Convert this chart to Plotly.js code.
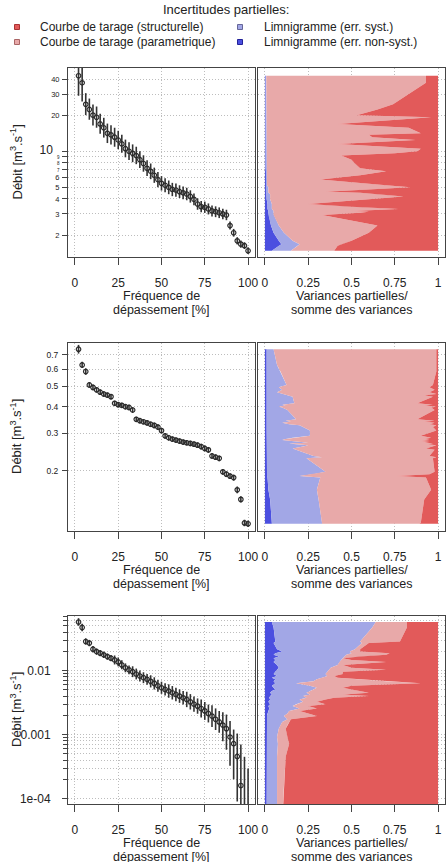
<!DOCTYPE html>
<html>
<head>
<meta charset="utf-8">
<script src="https://cdn.plot.ly/plotly-3.0.1.min.js"></script>
<style>html,body{margin:0;padding:0;background:#fff;}#chart{width:448px;height:862px;}</style>
</head>
<body>
<div id="chart"></div>
<script>
// Exceedance frequency [%] for the 48 ranked flows of each station
const freq = [2.08, 4.17, 6.25, 8.33, 10.42, 12.5, 14.58, 16.67, 18.75, 20.83, 22.92, 25, 27.08, 29.17, 31.25, 33.33,
  35.42, 37.5, 39.58, 41.67, 43.75, 45.83, 47.92, 50, 52.08, 54.17, 56.25, 58.33, 60.42, 62.5, 64.58, 66.67,
  68.75, 70.83, 72.92, 75, 77.08, 79.17, 81.25, 83.33, 85.42, 87.5, 89.58, 91.67, 93.75, 95.83, 97.92, 100];

// Station 1 : flows [m3/s] and uncertainty bounds
const q1 = [42.6, 37.2, 24.6, 22.3, 20.0, 19.2, 16.9, 15.7, 14.1, 13.7, 13.1, 12.4, 11.5, 10.5, 10.0, 9.6,
  9.2, 8.5, 7.9, 7.2, 6.8, 6.3, 5.8, 5.4, 5.2, 5.0, 4.8, 4.75, 4.6, 4.5, 4.4, 4.2,
  3.97, 3.63, 3.45, 3.41, 3.3, 3.18, 3.13, 3.07, 3.0, 2.94, 2.4, 2.09, 1.79, 1.68, 1.63, 1.48];
const q1Low = [29, 26, 20, 18.3, 16.4, 15.7, 14.0, 13.0, 11.7, 11.4, 10.9, 10.4, 9.7, 8.9, 8.45, 8.1,
  7.8, 7.25, 6.75, 6.2, 5.85, 5.45, 5.0, 4.7, 4.55, 4.38, 4.22, 4.18, 4.07, 3.98, 3.9, 3.73,
  3.54, 3.25, 3.1, 3.06, 2.97, 2.86, 2.82, 2.77, 2.71, 2.66, 2.22, 1.94, 1.67, 1.57, 1.53, 1.39];
const q1High = [62, 53, 30.5, 27.5, 24.5, 23.6, 20.5, 19.0, 17.0, 16.5, 15.7, 14.8, 13.7, 12.5, 11.9, 11.4,
  10.9, 10.0, 9.25, 8.4, 7.9, 7.3, 6.7, 6.2, 5.95, 5.7, 5.45, 5.38, 5.2, 5.08, 4.96, 4.72,
  4.45, 4.05, 3.84, 3.8, 3.67, 3.53, 3.47, 3.4, 3.32, 3.25, 2.6, 2.25, 1.92, 1.8, 1.74, 1.58];

// Station 2
const q2 = [0.745, 0.628, 0.585, 0.506, 0.493, 0.48, 0.468, 0.459, 0.453, 0.446, 0.415, 0.409, 0.406, 0.40, 0.397, 0.386,
  0.349, 0.344, 0.34, 0.336, 0.331, 0.327, 0.321, 0.309, 0.292, 0.286, 0.282, 0.279, 0.276, 0.273, 0.271, 0.269,
  0.267, 0.264, 0.26, 0.255, 0.251, 0.235, 0.232, 0.229, 0.198, 0.193, 0.189, 0.186, 0.163, 0.147, 0.114, 0.113];
const q2Low = [0.71, 0.607, 0.565, 0.491, 0.478, 0.466, 0.454, 0.445, 0.44, 0.433, 0.403, 0.397, 0.394, 0.388, 0.385, 0.374,
  0.339, 0.334, 0.33, 0.326, 0.321, 0.317, 0.311, 0.30, 0.283, 0.277, 0.274, 0.271, 0.268, 0.265, 0.263, 0.261,
  0.259, 0.256, 0.252, 0.247, 0.243, 0.228, 0.225, 0.222, 0.192, 0.187, 0.183, 0.18, 0.157, 0.142, 0.11, 0.109];
const q2High = [0.78, 0.65, 0.606, 0.521, 0.508, 0.494, 0.482, 0.473, 0.466, 0.459, 0.427, 0.421, 0.418, 0.412, 0.409, 0.398,
  0.359, 0.354, 0.35, 0.346, 0.341, 0.337, 0.331, 0.318, 0.301, 0.295, 0.29, 0.287, 0.284, 0.281, 0.279, 0.277,
  0.275, 0.272, 0.268, 0.263, 0.259, 0.242, 0.239, 0.236, 0.204, 0.199, 0.195, 0.192, 0.169, 0.152, 0.118, 0.117];

// Station 3
const q3 = [0.0577, 0.0474, 0.0286, 0.027, 0.0217, 0.0199, 0.0188, 0.0177, 0.0166, 0.0157, 0.0147, 0.0137, 0.0123, 0.0111, 0.0103, 0.00964,
  0.00887, 0.00826, 0.00776, 0.00732, 0.00681, 0.00633, 0.00581, 0.0054, 0.00509, 0.0048, 0.00451, 0.00425, 0.004, 0.00376, 0.00355, 0.00326,
  0.00299, 0.00279, 0.00256, 0.00235, 0.00214, 0.00195, 0.00174, 0.00158, 0.00141, 0.00124, 0.000916, 0.000721, 0.000456, 0.00016, 0.000055, 0.00004];
const q3Low = [0.0503, 0.0413, 0.0255, 0.0241, 0.0193, 0.0177, 0.0168, 0.0158, 0.0148, 0.014, 0.0125, 0.0117, 0.0105, 0.00945, 0.00877, 0.00793,
  0.0073, 0.00679, 0.00638, 0.00602, 0.00547, 0.00508, 0.00467, 0.00434, 0.00409, 0.00377, 0.00354, 0.00334, 0.00314, 0.00295, 0.00269, 0.00247,
  0.00227, 0.00212, 0.00186, 0.0017, 0.00155, 0.00132, 0.00118, 0.00107, 0.00079, 0.00058, 0.000325, 0.0002, 0.00009, 0.00003, 0.00001, 0.00001];
const q3High = [0.0662, 0.0544, 0.0321, 0.0303, 0.0243, 0.0223, 0.0211, 0.0199, 0.0186, 0.0176, 0.0173, 0.0161, 0.0145, 0.013, 0.0121, 0.01172,
  0.01079, 0.01004, 0.00944, 0.0089, 0.00848, 0.00788, 0.00723, 0.00672, 0.00634, 0.00612, 0.00575, 0.00541, 0.0051, 0.00479, 0.00468, 0.0043,
  0.00394, 0.00368, 0.00353, 0.00324, 0.00295, 0.00288, 0.00257, 0.00234, 0.00223, 0.00206, 0.00163, 0.0012, 0.00104, 0.0007, 0.00045, 0.000295];

// Partial variances / total variance, one value per flow (structural part = remainder to 1)
const nonSyst1 = [0.004, 0.004, 0.004, 0.004, 0.004, 0.004, 0.004, 0.004, 0.004, 0.004, 0.004, 0.004, 0.004, 0.004, 0.004, 0.004,
  0.004, 0.004, 0.004, 0.004, 0.006, 0.006, 0.006, 0.006, 0.006, 0.006, 0.006, 0.006, 0.006, 0.006, 0.01, 0.01,
  0.01, 0.015, 0.015, 0.015, 0.015, 0.02, 0.02, 0.02, 0.02, 0.02, 0.035, 0.05, 0.08, 0.095, 0.08, 0.04];
const syst1 = [0.004, 0.004, 0.004, 0.004, 0.004, 0.004, 0.004, 0.004, 0.004, 0.004, 0.004, 0.004, 0.004, 0.004, 0.004, 0.004,
  0.004, 0.004, 0.004, 0.004, 0.006, 0.006, 0.006, 0.006, 0.006, 0.014, 0.014, 0.014, 0.014, 0.014, 0.02, 0.02,
  0.02, 0.025, 0.025, 0.025, 0.025, 0.03, 0.03, 0.03, 0.03, 0.03, 0.045, 0.06, 0.08, 0.105, 0.11, 0.11];
const param1 = [0.922, 0.922, 0.732, 0.642, 0.522, 0.952, 0.412, 0.822, 0.892, 0.592, 0.612, 0.862, 0.412, 0.892, 0.872, 0.742,
  0.432, 0.492, 0.512, 0.542, 0.688, 0.538, 0.308, 0.588, 0.688, 0.82, 0.58, 0.48, 0.33, 0.53, 0.62, 0.77,
  0.57, 0.21, 0.46, 0.56, 0.73, 0.45, 0.55, 0.5, 0.4, 0.28, 0.57, 0.49, 0.34, 0.25, 0.23, 0.25];

const nonSyst2 = [0.01, 0.01, 0.01, 0.01, 0.01, 0.01, 0.01, 0.01, 0.01, 0.01, 0.01, 0.01, 0.01, 0.01, 0.01, 0.01,
  0.01, 0.01, 0.01, 0.01, 0.01, 0.01, 0.01, 0.01, 0.01, 0.01, 0.01, 0.01, 0.01, 0.01, 0.01, 0.01,
  0.01, 0.01, 0.01, 0.01, 0.01, 0.01, 0.01, 0.01, 0.012, 0.012, 0.012, 0.015, 0.02, 0.03, 0.04, 0.04];
const syst2 = [0.04, 0.06, 0.08, 0.115, 0.07, 0.09, 0.06, 0.10, 0.12, 0.15, 0.16, 0.09, 0.11, 0.07, 0.09, 0.12,
  0.17, 0.11, 0.14, 0.09, 0.13, 0.19, 0.21, 0.25, 0.25, 0.15, 0.11, 0.09, 0.14, 0.19, 0.24, 0.13,
  0.17, 0.24, 0.21, 0.15, 0.17, 0.27, 0.32, 0.23, 0.338, 0.268, 0.188, 0.305, 0.28, 0.28, 0.29, 0.29];
const param2 = [0.94, 0.92, 0.90, 0.845, 0.87, 0.88, 0.88, 0.88, 0.79, 0.81, 0.71, 0.87, 0.80, 0.91, 0.86, 0.85,
  0.70, 0.86, 0.77, 0.88, 0.81, 0.79, 0.75, 0.73, 0.64, 0.80, 0.80, 0.85, 0.75, 0.75, 0.67, 0.83,
  0.76, 0.74, 0.74, 0.77, 0.80, 0.67, 0.66, 0.73, 0.63, 0.67, 0.56, 0.61, 0.66, 0.61, 0.57, 0.56];

const nonSyst3 = [0.04, 0.05, 0.06, 0.05, 0.07, 0.10, 0.06, 0.05, 0.08, 0.05, 0.06, 0.05, 0.07, 0.08, 0.07, 0.06,
  0.05, 0.07, 0.04, 0.06, 0.05, 0.06, 0.04, 0.05, 0.06, 0.04, 0.03, 0.04, 0.03, 0.025, 0.03, 0.02,
  0.03, 0.02, 0.025, 0.02, 0.015, 0.012, 0.012, 0.012, 0.01, 0.01, 0.01, 0.01, 0.01, 0.01, 0.01, 0.01];
const syst3 = [0.60, 0.57, 0.49, 0.51, 0.45, 0.39, 0.44, 0.42, 0.38, 0.40, 0.38, 0.38, 0.35, 0.30, 0.30, 0.30,
  0.30, 0.29, 0.29, 0.24, 0.23, 0.12, 0.22, 0.25, 0.22, 0.22, 0.21, 0.22, 0.19, 0.215, 0.17, 0.20,
  0.15, 0.14, 0.175, 0.12, 0.115, 0.098, 0.118, 0.088, 0.08, 0.07, 0.06, 0.065, 0.06, 0.06, 0.06, 0.06];
const param3 = [0.18, 0.20, 0.23, 0.04, 0.03, 0.06, 0.22, 0.23, 0.09, 0.00, 0.06, 0.27, 0.03, 0.12, 0.33, 0.09,
  0.10, 0.04, 0.09, 0.25, 0.42, 0.72, 0.24, 0.15, 0.22, 0.29, 0.36, 0.19, 0.38, 0.16, 0.15, 0.08,
  0.17, 0.09, 0.10, 0.06, 0.12, 0.19, 0.02, 0.04, 0.04, 0.04, 0.06, 0.065, 0.05, 0.04, 0.03, 0.03];

const xTicksFreq = [0, 25, 50, 75, 100];
const xTicksVar = [0, 0.25, 0.5, 0.75, 1];
const xTickTextVar = ['0', '0.25', '0.5', '0.75', '1'];

const legendLabels = ['Courbe de tarage (structurelle)', 'Courbe de tarage (parametrique)',
  'Limnigramme (err. syst.)', 'Limnigramme (err. non-syst.)'];

// ---- styling ----
const W = 448, H = 862;
const FONT = 'Liberation Sans, Arial, Helvetica, sans-serif';
const INK = '#222';
const BOX = '#444';
const GRID = '#bdbdbd';
const DASH = '1px,2px';
const COL = {
  struct: '#e25a5a',
  param: '#e8a9a9',
  syst: '#a2a7e6',
  nonSyst: '#4b4fe0'
};

const px = v => v / W;
const py = v => 1 - v / H;

// panel boxes in page pixels
const LEFT = [68, 255], RIGHT = [258, 445];
const rowsPx = [[68, 257], [343, 531], [616, 804]];

const stations = [
  { q: q1, lo: q1Low, hi: q1High, ns: nonSyst1, sy: syst1, pa: param1, yr: [0.118, 1.694] },
  { q: q2, lo: q2Low, hi: q2High, ns: nonSyst2, sy: syst2, pa: param2, yr: [-0.981, -0.099] },
  { q: q3, lo: q3Low, hi: q3High, ns: nonSyst3, sy: syst3, pa: param3, yr: [-4.085, -1.145] }
];

// y ticks per station: labelled ticks, and unlabelled minor ticks with their grid lines
const yTick1 = [2, 3, 4, 5, 6, 7, 8, 9, 10, 20, 30, 40];
const yText1 = ['2', '3', '4', '5', '6',
  '<span style="font-size:4.5px">7</span>', '<span style="font-size:4.5px">8</span>', '<span style="font-size:4.5px">9</span>',
  '<span style="font-size:12px">10\u00a0\u00a0</span>', '20', '30', '40'];
const yTick2 = [0.2, 0.3, 0.4, 0.5, 0.6, 0.7];
const yText2 = ['0.2', '0.3', '0.4', '0.5', '0.6', '0.7'];
const yTick3 = [0.0001, 0.001, 0.01];
const yText3 = ['1e-04', '0.001', '0.01'];
const yMinor3 = [0.0002, 0.0003, 0.0004, 0.0005, 0.0006, 0.0007, 0.0008, 0.0009,
  0.002, 0.003, 0.004, 0.005, 0.006, 0.007, 0.008, 0.009,
  0.02, 0.03, 0.04, 0.05, 0.06, 0.07];
const yTicks = [[yTick1, yText1, 7.5, 1, null], [yTick2, yText2, 8.5, 2, null], [yTick3, yText3, 12, 9, yMinor3]];

const traces = [];
const layout = {
  width: W, height: H,
  margin: { l: 0, r: 0, t: 0, b: 0 },
  paper_bgcolor: '#fff', plot_bgcolor: '#fff',
  font: { family: FONT, color: INK, size: 12 },
  showlegend: false,
  annotations: [], shapes: []
};

function baseAxis() {
  return {
    showline: true, mirror: true, linecolor: BOX, linewidth: 1,
    zeroline: false, showgrid: true, gridcolor: GRID, gridwidth: 1, griddash: DASH,
    fixedrange: true
  };
}
function minorSpec(vals, withTicks) {
  return {
    tickmode: 'array', tickvals: vals, ticks: withTicks ? 'outside' : '', ticklen: 4, tickcolor: BOX,
    showgrid: true, gridcolor: GRID, gridwidth: 1, griddash: DASH
  };
}

stations.forEach((st, r) => {
  const [top, bot] = rowsPx[r];
  const il = 2 * r + 1, ir = 2 * r + 2;
  const yDom = [py(bot), py(top)];
  const [tv, tt, tfs, tso, mv] = yTicks[r];

  layout['xaxis' + il] = Object.assign(baseAxis(), {
    domain: [px(LEFT[0]), px(LEFT[1])], anchor: 'y' + il, range: [-4, 104],
    tickvals: xTicksFreq, ticks: 'outside', ticklen: 7, tickcolor: BOX,
    tickfont: { size: 12, color: INK }, ticklabelstandoff: 8
  });
  const yl = Object.assign(baseAxis(), {
    domain: yDom, anchor: 'x' + il, type: 'log', range: st.yr,
    tickvals: tv, ticktext: tt, ticks: 'outside', ticklen: 5, tickcolor: BOX,
    tickfont: { size: tfs, color: INK }, ticklabelstandoff: tso
  });
  if (mv) yl.minor = minorSpec(mv, true);
  layout['yaxis' + il] = yl;

  layout['xaxis' + ir] = Object.assign(baseAxis(), {
    domain: [px(RIGHT[0]), px(RIGHT[1])], anchor: 'y' + ir, range: [-0.04, 1.04],
    tickvals: xTicksVar, ticktext: xTickTextVar, ticks: 'outside', ticklen: 7, tickcolor: BOX,
    tickfont: { size: 12, color: INK }, ticklabelstandoff: 8
  });
  const yr = Object.assign(baseAxis(), {
    domain: yDom, anchor: 'x' + ir, type: 'log', range: st.yr,
    tickvals: tv, showticklabels: false, ticks: ''
  });
  if (mv) yr.minor = minorSpec(mv, false);
  layout['yaxis' + ir] = yr;

  // flow duration curve with uncertainty bars
  traces.push({
    type: 'scatter', mode: 'markers', x: freq, y: st.q,
    xaxis: 'x' + il, yaxis: 'y' + il,
    marker: { symbol: 'circle-open', size: 4.5, color: '#2a2a2a', line: { width: 1.2, color: '#2a2a2a' } },
    error_y: {
      type: 'data', symmetric: false,
      array: st.q.map((v, i) => st.hi[i] - v),
      arrayminus: st.q.map((v, i) => v - st.lo[i]),
      color: '#333', thickness: 1.6, width: 0
    },
    hoverinfo: 'skip', cliponaxis: true
  });

  // stacked variance shares along the flow axis
  const c1 = st.ns.slice();
  const c2 = c1.map((v, i) => v + st.sy[i]);
  const c3 = c2.map((v, i) => v + st.pa[i]);
  const ones = st.q.map(() => 1);
  const zeros = st.q.map(() => 0);
  const bands = [
    [zeros, c1, COL.nonSyst],
    [c1, c2, COL.syst],
    [c2, c3, COL.param],
    [c3, ones, COL.struct]
  ];
  bands.forEach(([a, b, col]) => {
    traces.push({
      type: 'scatter', mode: 'lines',
      x: a.concat(b.slice().reverse()),
      y: st.q.concat(st.q.slice().reverse()),
      xaxis: 'x' + ir, yaxis: 'y' + ir,
      fill: 'toself', fillcolor: col, line: { width: 0, color: col },
      hoverinfo: 'skip'
    });
  });

  // axis titles
  const cy = (top + bot) / 2;
  layout.annotations.push({
    xref: 'paper', yref: 'paper', x: px(16), y: py(cy), xanchor: 'center', yanchor: 'middle',
    text: 'Débit [m<sup>3</sup>.s<sup>-1</sup>]', textangle: -90, showarrow: false,
    font: { size: 13, color: INK }
  });
  const lx = (LEFT[0] + LEFT[1]) / 2, rx = (RIGHT[0] + RIGHT[1]) / 2;
  [['Fréquence de', lx, 38.5], ['dépassement [%]', lx, 53],
   ['Variances partielles/', rx, 38.5], ['somme des variances', rx, 53]].forEach(([t, x, dy]) => {
    layout.annotations.push({
      xref: 'paper', yref: 'paper', x: px(x), y: py(bot + dy), xanchor: 'center', yanchor: 'middle',
      text: t, showarrow: false, font: { size: 12.5, color: INK }
    });
  });
});

// legend block
layout.annotations.push({
  xref: 'paper', yref: 'paper', x: px(226), y: py(9), xanchor: 'center', yanchor: 'middle',
  text: 'Incertitudes partielles:', showarrow: false, font: { size: 13, color: INK }
});
const legendItems = [
  [legendLabels[0], 17, 38, 27, COL.struct, '#a33'],
  [legendLabels[1], 17, 38, 42, COL.param, '#a66'],
  [legendLabels[2], 240, 262, 27, COL.syst, '#669'],
  [legendLabels[3], 240, 262, 42, COL.nonSyst, '#229']
];
legendItems.forEach(([t, sx, tx, y, fill, edge]) => {
  layout.shapes.push({
    type: 'rect', xref: 'paper', yref: 'paper',
    x0: px(sx - 2.5), x1: px(sx + 2.5), y0: py(y + 2.5), y1: py(y - 2.5),
    fillcolor: fill, line: { color: edge, width: 1 }
  });
  layout.annotations.push({
    xref: 'paper', yref: 'paper', x: px(tx), y: py(y), xanchor: 'left', yanchor: 'middle',
    text: t, showarrow: false, font: { size: 12, color: INK }
  });
});

Plotly.newPlot('chart', traces, layout, { staticPlot: true, displayModeBar: false });
</script>
</body>
</html>
